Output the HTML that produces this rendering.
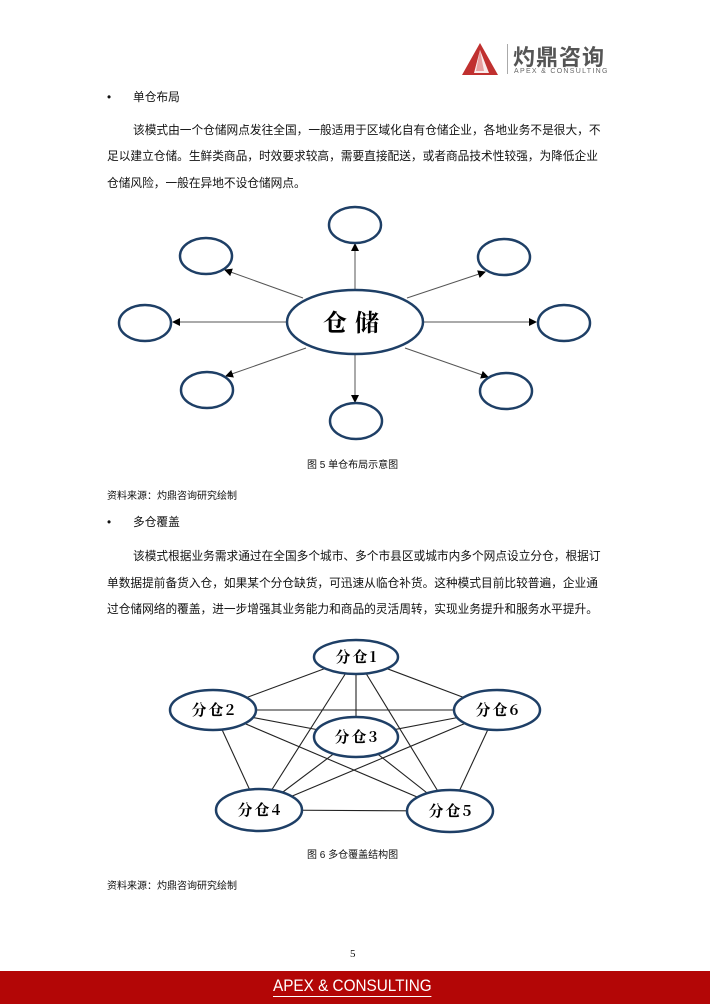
<!DOCTYPE html>
<html><head><meta charset="utf-8"><style>
body{margin:0;width:710px;height:1004px;position:relative;background:#fff;font-family:"Liberation Sans","Noto Sans CJK SC",sans-serif;color:#111;overflow:hidden}
.t{position:absolute;white-space:nowrap;font-size:11.7px;line-height:16px}
.s{position:absolute;white-space:nowrap;font-size:10px;line-height:13px}
</style></head><body>
<!-- logo -->
<svg style="position:absolute;left:462px;top:43px" width="40" height="33"><polygon points="18,0 0,32 36,32" fill="#c0302f"/><polygon points="18,7 27,30 12,30" fill="#fff" opacity="0.9"/><polygon points="18,7 22,28 14,28" fill="#e8a0a0"/></svg>
<div style="position:absolute;left:507px;top:44px;width:1px;height:30px;background:#aaa"></div>
<div style="position:absolute;left:513px;top:40px;font-size:22px;font-weight:bold;color:#555;letter-spacing:1px;font-family:'Noto Sans CJK SC',sans-serif">灼鼎咨询</div>
<div style="position:absolute;left:514px;top:68px;font-size:7px;color:#666;letter-spacing:1.3px">APEX &amp; CONSULTING</div>

<div class="t" style="left:107px;top:90px">•</div>
<div class="t" style="left:133px;top:90px">单仓布局</div>
<div class="t" style="left:133px;top:123px">该模式由一个仓储网点发往全国，一般适用于区域化自有仓储企业，各地业务不是很大，不</div>
<div class="t" style="left:107px;top:149px">足以建立仓储。生鲜类商品，时效要求较高，需要直接配送，或者商品技术性较强，为降低企业</div>
<div class="t" style="left:107px;top:176px">仓储风险，一般在异地不设仓储网点。</div>

<svg style="position:absolute;left:0;top:0" width="710" height="1004">
<defs><marker id="a" markerWidth="8" markerHeight="8" refX="7" refY="4" orient="auto" markerUnits="userSpaceOnUse"><path d="M0,0 L8,4 L0,8z" fill="#000"/></marker></defs>
<g stroke="#555" stroke-width="1" marker-end="url(#a)">
<line x1="355" y1="289" x2="355" y2="244"/>
<line x1="355" y1="355" x2="355" y2="402"/>
<line x1="286" y1="322" x2="173" y2="322"/>
<line x1="424" y1="322" x2="536" y2="322"/>
<line x1="303" y1="298" x2="225" y2="270"/>
<line x1="407" y1="298" x2="485" y2="272"/>
<line x1="306" y1="348" x2="226" y2="376"/>
<line x1="405" y1="348" x2="488" y2="377"/>
</g>
<g fill="#fff" stroke="#1e3f66" stroke-width="2.5">
<ellipse cx="355" cy="322" rx="68" ry="32"/>
<ellipse cx="355" cy="225" rx="26" ry="18"/>
<ellipse cx="206" cy="256" rx="26" ry="18"/>
<ellipse cx="504" cy="257" rx="26" ry="18"/>
<ellipse cx="145" cy="323" rx="26" ry="18"/>
<ellipse cx="564" cy="323" rx="26" ry="18"/>
<ellipse cx="207" cy="390" rx="26" ry="18"/>
<ellipse cx="506" cy="391" rx="26" ry="18"/>
<ellipse cx="356" cy="421" rx="26" ry="18"/>
</g>
<text x="355" y="331" text-anchor="middle" font-size="24" font-weight="bold" font-family="Noto Serif CJK SC,serif" letter-spacing="8">仓储</text>

<g stroke="#222" stroke-width="1.1">
<line x1="356" y1="657" x2="213" y2="710"/><line x1="356" y1="657" x2="497" y2="710"/>
<line x1="356" y1="657" x2="356" y2="737"/><line x1="356" y1="657" x2="259" y2="810"/>
<line x1="356" y1="657" x2="450" y2="811"/><line x1="213" y1="710" x2="497" y2="710"/>
<line x1="213" y1="710" x2="356" y2="737"/><line x1="213" y1="710" x2="259" y2="810"/>
<line x1="213" y1="710" x2="450" y2="811"/><line x1="497" y1="710" x2="356" y2="737"/>
<line x1="497" y1="710" x2="259" y2="810"/><line x1="497" y1="710" x2="450" y2="811"/>
<line x1="356" y1="737" x2="259" y2="810"/><line x1="356" y1="737" x2="450" y2="811"/>
<line x1="259" y1="810" x2="450" y2="811"/>
</g>
<g fill="#fff" stroke="#1e3f66" stroke-width="2.5">
<ellipse cx="356" cy="657" rx="42" ry="17"/>
<ellipse cx="213" cy="710" rx="43" ry="20"/>
<ellipse cx="497" cy="710" rx="43" ry="20"/>
<ellipse cx="356" cy="737" rx="42" ry="20"/>
<ellipse cx="259" cy="810" rx="43" ry="21"/>
<ellipse cx="450" cy="811" rx="43" ry="21"/>
</g>
<g font-size="15" font-weight="bold" font-family="Noto Serif CJK SC,serif" text-anchor="middle" letter-spacing="2">
<text x="357" y="662">分仓1</text><text x="214" y="715">分仓2</text><text x="498" y="715">分仓6</text>
<text x="357" y="742">分仓3</text><text x="260" y="815">分仓4</text><text x="451" y="816">分仓5</text>
</g>
</svg>

<div class="s" style="left:307px;top:459px">图 5 单仓布局示意图</div>
<div class="s" style="left:107px;top:490px">资料来源：灼鼎咨询研究绘制</div>
<div class="t" style="left:107px;top:515px">•</div>
<div class="t" style="left:133px;top:515px">多仓覆盖</div>
<div class="t" style="left:133px;top:549px">该模式根据业务需求通过在全国多个城市、多个市县区或城市内多个网点设立分仓，根据订</div>
<div class="t" style="left:107px;top:576px">单数据提前备货入仓，如果某个分仓缺货，可迅速从临仓补货。这种模式目前比较普遍，企业通</div>
<div class="t" style="left:107px;top:602px">过仓储网络的覆盖，进一步增强其业务能力和商品的灵活周转，实现业务提升和服务水平提升。</div>
<div class="s" style="left:307px;top:849px">图 6 多仓覆盖结构图</div>
<div class="s" style="left:107px;top:880px">资料来源：灼鼎咨询研究绘制</div>

<div style="position:absolute;left:350px;top:948px;font-size:11px;font-family:'Liberation Serif',serif">5</div>
<div style="position:absolute;left:0;top:971px;width:710px;height:33px;background:#b30606"></div>
<div style="position:absolute;left:273px;top:976px;color:#fff;font-size:17px;border-bottom:1.5px solid #fff;line-height:20px;transform:scaleX(0.9);transform-origin:left">APEX &amp; CONSULTING</div>
</body></html>
